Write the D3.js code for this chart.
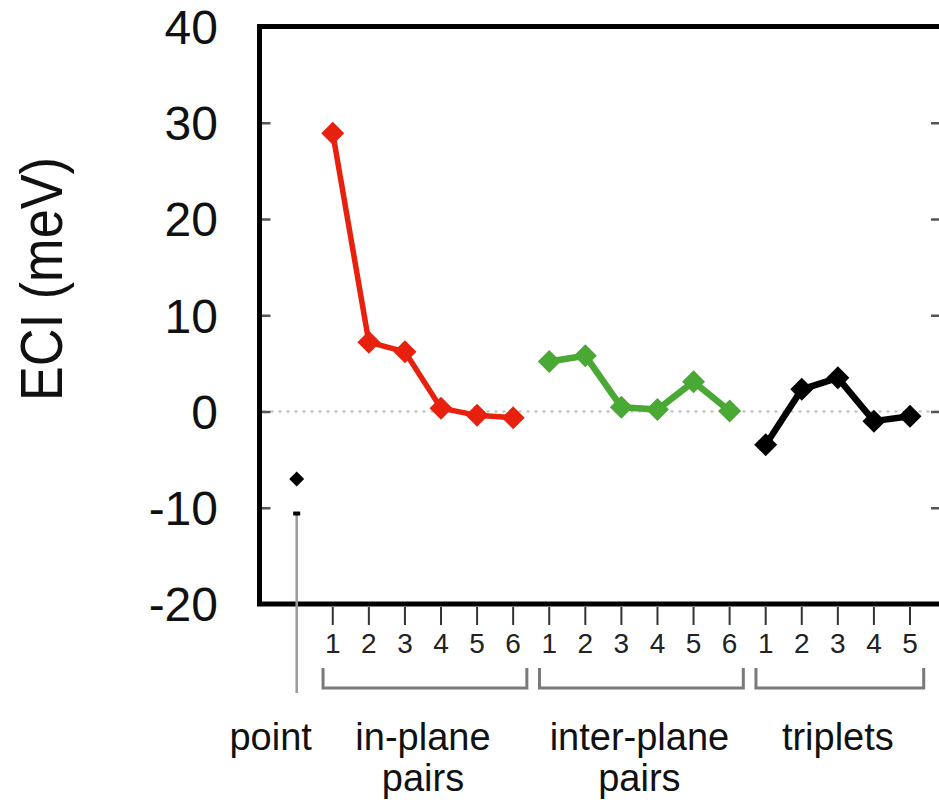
<!DOCTYPE html>
<html>
<head>
<meta charset="utf-8">
<script src="https://cdn.jsdelivr.net/npm/d3@7"></script>
<style>
  body { margin: 0; background: #fff; }
  svg { display: block; font-family: "Liberation Sans", Arial, sans-serif; }
</style>
</head>
<body>
<div id="chart"></div>
<script>
// values (meV)
const pointECI = [-7.0]
const inPlane = [28.9, 7.2, 6.2, 0.35, -0.4, -0.65]
const interPlane = [5.2, 5.8, 0.45, 0.2, 3.1, 0.05]
const triplets = [-3.45, 2.3, 3.5, -1.0, -0.5]
const yTicks = [-20, -10, 0, 10, 20, 30, 40]
const groupNames = [["point"], ["in-plane", "pairs"], ["inter-plane", "pairs"], ["triplets"]]
const groupColors = ["#000", "#e8200e", "#4aa834", "#000"]

const width = 939, height = 800
const svg = d3.select("#chart").append("svg")
    .attr("width", width).attr("height", height)

// index along x: 0 = point, then each cluster one after another
let idx = 0
const series = [pointECI, inPlane, interPlane, triplets].map((vals, g) => {
    const pts = vals.map((v, i) => ({ k: idx + i, n: i + 1, v: v }))
    idx += vals.length
    return { g: g, pts: pts }
})

const x = d3.scaleLinear().domain([0, 17]).range([296.7, 910])
const y = d3.scaleLinear().domain([-20, 40]).range([604, 26.5])
const step = x(1) - x(0)

const pLeft = 259.5, pRight = 943, pTop = y(40), pBottom = y(-20)

// zero line
svg.append("line")
    .attr("x1", pLeft + 3).attr("x2", pRight)
    .attr("y1", y(0)).attr("y2", y(0))
    .attr("stroke", "#bbb").attr("stroke-width", 2)
    .attr("stroke-dasharray", "3 5")

// inner ticks left and right
const yAxisL = d3.axisRight(y).tickValues(yTicks).tickSize(11).tickFormat("")
const yAxisR = d3.axisLeft(y).tickValues(yTicks).tickSize(9).tickFormat("")
svg.append("g").attr("transform", `translate(${pLeft},0)`).call(yAxisL)
svg.append("g").attr("transform", `translate(${pRight - 3},0)`).call(yAxisR)
svg.selectAll(".domain").remove()
svg.selectAll(".tick line").attr("stroke", "#555").attr("stroke-width", 2.5)

// y labels
svg.selectAll(".ylab").data(yTicks).enter().append("text")
    .attr("x", 218).attr("y", d => y(d)).attr("dy", "0.36em")
    .attr("text-anchor", "end").attr("font-size", 48).attr("fill", "#111")
    .text(d => d)

svg.append("text")
    .attr("transform", `translate(62,${279}) rotate(-90)`)
    .attr("text-anchor", "middle").attr("font-size", 60)
    .attr("textLength", 244).attr("lengthAdjust", "spacingAndGlyphs")
    .attr("fill", "#111")
    .text("ECI (meV)")

// frame
svg.append("rect")
    .attr("x", pLeft).attr("y", pTop)
    .attr("width", pRight - pLeft).attr("height", pBottom - pTop)
    .attr("fill", "none").attr("stroke", "#000").attr("stroke-width", 5)

// x ticks and numbers
const allPts = series.flatMap(s => s.pts)
svg.selectAll(".xt").data(allPts.filter(d => d.k > 0)).enter().append("line")
    .attr("x1", d => x(d.k)).attr("x2", d => x(d.k))
    .attr("y1", pBottom + 3).attr("y2", pBottom + 21)
    .attr("stroke", "#333").attr("stroke-width", 2)
svg.selectAll(".xn").data(allPts.filter(d => d.k > 0)).enter().append("text")
    .attr("x", d => x(d.k)).attr("y", 653)
    .attr("text-anchor", "middle").attr("font-size", 28).attr("fill", "#222")
    .text(d => d.n)

// leader line for the point term
svg.append("line")
    .attr("x1", x(0)).attr("x2", x(0)).attr("y1", y(-10.6)).attr("y2", 693)
    .attr("stroke", "#999").attr("stroke-width", 2.5)
svg.append("rect")
    .attr("x", x(0) - 3.5).attr("y", y(-10.6) - 2).attr("width", 7).attr("height", 4)
    .attr("fill", "#000")

// brackets
series.filter(s => s.g > 0).forEach(s => {
    const x0 = x(s.pts[0].k) - 0.27 * step
    const x1 = x(s.pts[s.pts.length - 1].k) + 0.38 * step
    svg.append("path")
        .attr("d", `M${x0},668 V688 H${x1} V668`)
        .attr("fill", "none").attr("stroke", "#7a7a7a").attr("stroke-width", 3)
})

// group labels
series.forEach(s => {
    const c = s.g === 0 ? x(0) - 26 : (x(s.pts[0].k) + x(s.pts[s.pts.length - 1].k)) / 2
    groupNames[s.g].forEach((t, i) => {
        svg.append("text")
            .attr("x", c).attr("y", 750 + i * 41)
            .attr("text-anchor", "middle").attr("font-size", 38).attr("fill", "#111")
            .text(t)
    })
})

// lines + diamond markers
const line = d3.line().x(d => x(d.k)).y(d => y(d.v))
const diamond = r => `M0,${-r}L${r},0L0,${r}L${-r},0Z`

series.forEach(s => {
    const g = svg.append("g")
    if (s.pts.length > 1) {
        g.append("path").datum(s.pts)
            .attr("d", line).attr("fill", "none")
            .attr("stroke", groupColors[s.g])
            .attr("stroke-width", s.g === 1 ? 5.5 : 6.5)
            .attr("stroke-linejoin", "round")
    }
    g.selectAll("path.m").data(s.pts).enter().append("path")
        .attr("class", "m")
        .attr("transform", d => `translate(${x(d.k)},${y(d.v)})`)
        .attr("d", s.g === 0 ? diamond(7.5) : diamond(11.5))
        .attr("fill", groupColors[s.g])
})
</script>
</body>
</html>
